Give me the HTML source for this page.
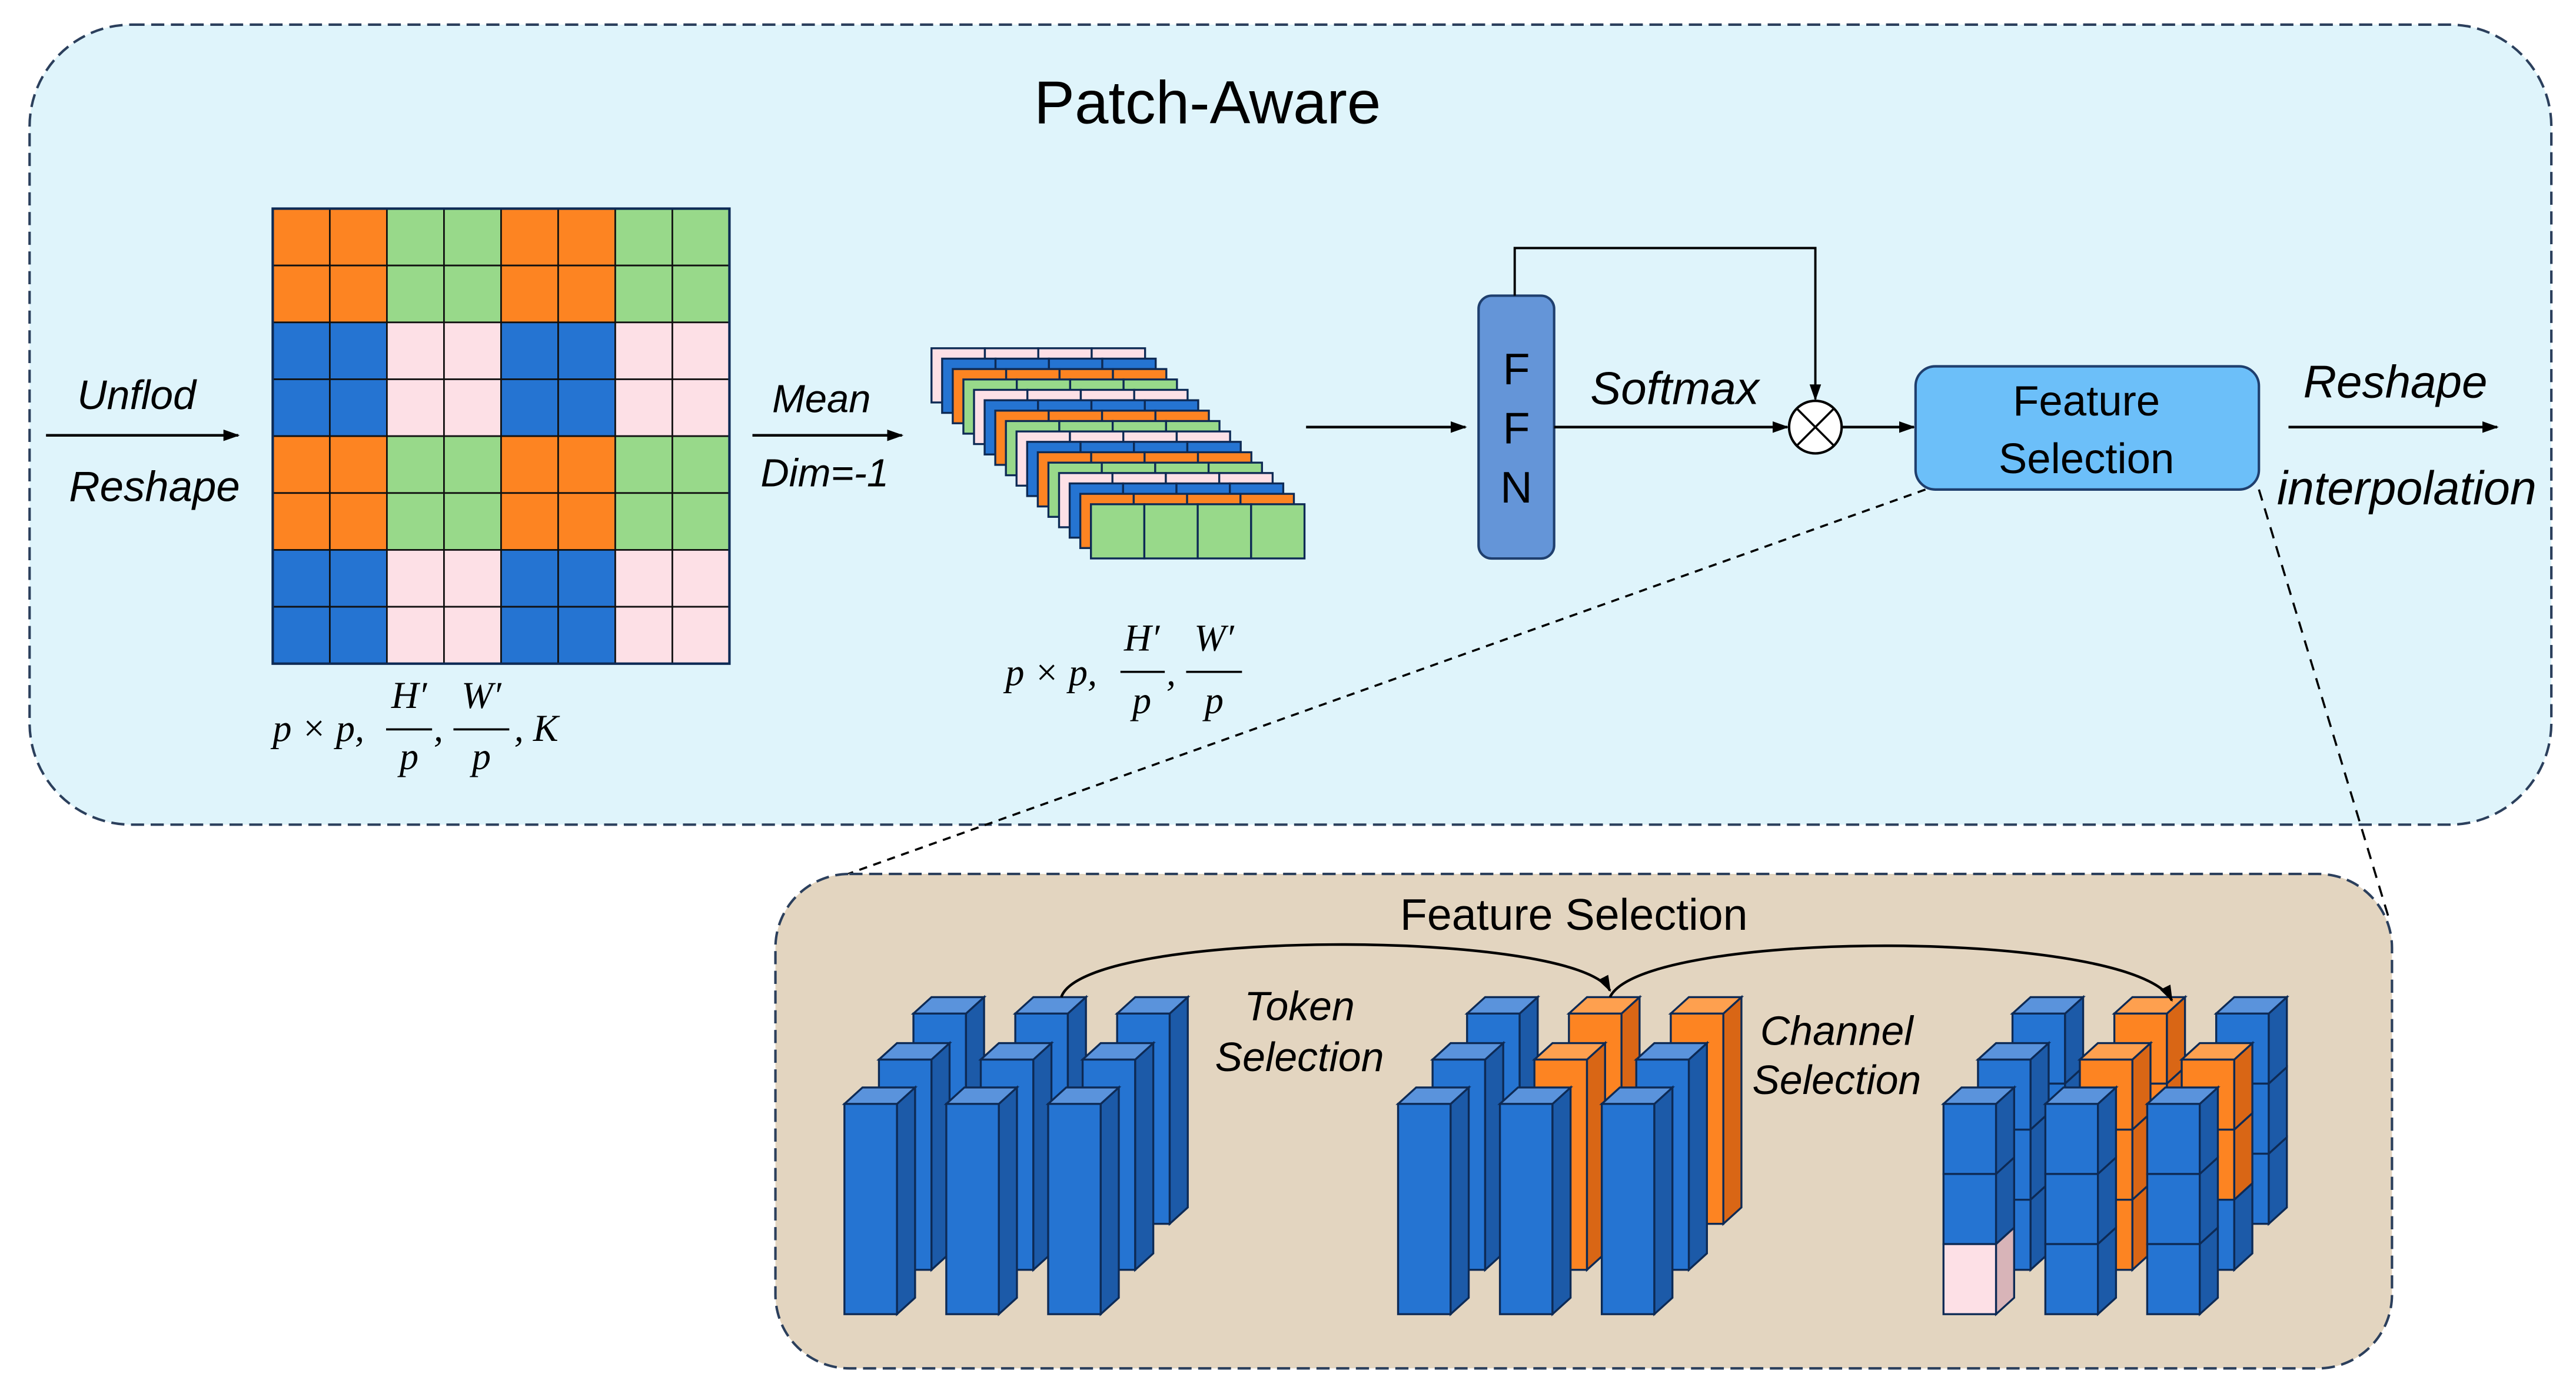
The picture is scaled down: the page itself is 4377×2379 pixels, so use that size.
<!DOCTYPE html>
<html><head><meta charset="utf-8">
<style>
html,body{margin:0;padding:0;background:#fff;}
svg{display:block;}
.lab{font-family:"Liberation Sans",sans-serif;font-style:italic;font-size:24px;fill:#000;}
.m{font-family:"Liberation Serif",serif;font-style:italic;font-size:23px;fill:#000;}
</style></head>
<body>
<svg id="s" width="4377" height="2379" viewBox="0 0 1568 852.25" xmlns="http://www.w3.org/2000/svg">
<defs>
<marker id="ar" markerWidth="10" markerHeight="10" refX="9" refY="5" orient="auto" markerUnits="userSpaceOnUse">
<path d="M0,1.5 L10,5 L0,8.5 z" fill="#000"/></marker>
</defs>
<rect width="1568" height="852.25" fill="#fff"/>
<rect x="18" y="15" width="1535" height="487" rx="62" fill="#dff4fb" stroke="#2b3f5c" stroke-width="1.5" stroke-dasharray="8,4"/>
<text x="735" y="75" text-anchor="middle" style="font-family:'Liberation Sans',sans-serif;font-size:37px">Patch-Aware</text>

<g id="grid"></g>
<g id="stack"></g>

<line x1="28" y1="265" x2="145" y2="265" stroke="#000" stroke-width="1.6" marker-end="url(#ar)"/>
<text class="lab" x="47" y="249" style="font-size:25px">Unflod</text>
<text class="lab" x="42" y="305" style="font-size:26px">Reshape</text>
<line x1="458" y1="265" x2="549" y2="265" stroke="#000" stroke-width="1.6" marker-end="url(#ar)"/>
<text class="lab" x="470" y="251">Mean</text>
<text class="lab" x="463" y="296">Dim=-1</text>

<text class="m" x="166" y="451">p × p,</text>
<text class="m" x="249" y="431" text-anchor="middle">H′</text>
<line x1="235" y1="444" x2="263" y2="444" stroke="#000" stroke-width="1.3"/>
<text class="m" x="249" y="468" text-anchor="middle">p</text>
<text class="m" x="264" y="451">,</text>
<text class="m" x="293" y="431" text-anchor="middle">W′</text>
<line x1="276" y1="444" x2="310" y2="444" stroke="#000" stroke-width="1.3"/>
<text class="m" x="293" y="468" text-anchor="middle">p</text>
<text class="m" x="313" y="451">, K</text>
<text class="m" x="612" y="417">p × p,</text>
<text class="m" x="695" y="396" text-anchor="middle">H′</text>
<line x1="682" y1="409" x2="709" y2="409" stroke="#000" stroke-width="1.3"/>
<text class="m" x="695" y="434" text-anchor="middle">p</text>
<text class="m" x="710" y="417">,</text>
<text class="m" x="739" y="396" text-anchor="middle">W′</text>
<line x1="722" y1="409" x2="756" y2="409" stroke="#000" stroke-width="1.3"/>
<text class="m" x="739" y="434" text-anchor="middle">p</text>

<line x1="795" y1="260" x2="892" y2="260" stroke="#000" stroke-width="1.6" marker-end="url(#ar)"/>
<rect x="900" y="180" width="46" height="160" rx="8" fill="#6495d8" stroke="#1f3f6e" stroke-width="1.5"/>
<g style="font-family:'Liberation Sans',sans-serif;font-size:27px" text-anchor="middle">
<text x="923" y="234">F</text><text x="923" y="270">F</text><text x="923" y="306">N</text></g>
<polyline points="922,180 922,151 1105,151 1105,243" fill="none" stroke="#000" stroke-width="1.4" marker-end="url(#ar)"/>
<line x1="946" y1="260" x2="1088" y2="260" stroke="#000" stroke-width="1.6" marker-end="url(#ar)"/>
<text class="lab" x="968" y="246" style="font-size:28px">Softmax</text>
<circle cx="1105" cy="260" r="16" fill="#fff" stroke="#000" stroke-width="1.5"/>
<line x1="1094" y1="249" x2="1116" y2="271" stroke="#000" stroke-width="1.3"/>
<line x1="1116" y1="249" x2="1094" y2="271" stroke="#000" stroke-width="1.3"/>
<line x1="1121" y1="260" x2="1165" y2="260" stroke="#000" stroke-width="1.6" marker-end="url(#ar)"/>
<rect x="1166" y="223" width="209" height="75" rx="12" fill="#6cbff9" stroke="#1f3f6e" stroke-width="1.5"/>
<g style="font-family:'Liberation Sans',sans-serif;font-size:26px" text-anchor="middle">
<text x="1270" y="253">Feature</text><text x="1270" y="288">Selection</text></g>
<line x1="1393" y1="260" x2="1520" y2="260" stroke="#000" stroke-width="1.6" marker-end="url(#ar)"/>
<text class="lab" x="1402" y="242" style="font-size:28px">Reshape</text>
<text class="lab" x="1386" y="307" style="font-size:29px">interpolation</text>

<line x1="1172" y1="298" x2="505" y2="536" stroke="#000" stroke-width="1.3" stroke-dasharray="5,4"/>
<line x1="1375" y1="298" x2="1455" y2="562" stroke="#000" stroke-width="1.3" stroke-dasharray="7,5"/>

<rect x="472" y="532" width="984" height="301" rx="45" fill="#e3d5c0" stroke="#2b3f5c" stroke-width="1.5" stroke-dasharray="8,4"/>
<text x="958" y="566" text-anchor="middle" style="font-family:'Liberation Sans',sans-serif;font-size:27px">Feature Selection</text>
<g id="bars"></g>
<path d="M646,607 C660,565 960,565 980,603" fill="none" stroke="#000" stroke-width="1.6" marker-end="url(#ar)"/>
<path d="M980,607 C1000,565 1300,565 1322,609" fill="none" stroke="#000" stroke-width="1.6" marker-end="url(#ar)"/>
<text class="lab" x="791" y="621" text-anchor="middle" style="font-size:25px">Token</text>
<text class="lab" x="791" y="652" text-anchor="middle" style="font-size:25px">Selection</text>
<text class="lab" x="1118" y="636" text-anchor="middle" style="font-size:25px">Channel</text>
<text class="lab" x="1118" y="666" text-anchor="middle" style="font-size:25px">Selection</text>
</svg>
<script>
var NS="http://www.w3.org/2000/svg";
function el(p,t,a){var e=document.createElementNS(NS,t);for(var k in a)e.setAttribute(k,a[k]);p.appendChild(e);return e;}
var C={O:"#fd8422",G:"#98d98a",B:"#2574d2",P:"#fde0e6"};
var g=document.getElementById("grid");
var rows=["OGOG","BPBP","OGOG","BPBP"];
var cw=(444-166)/8,ch=(404-127)/8;
for(var r=0;r<8;r++)for(var c=0;c<8;c++){
 var col=C[rows[r>>1][c>>1]];
 el(g,"rect",{x:166+c*cw,y:127+r*ch,width:cw,height:ch,fill:col,stroke:"#111","stroke-width":1});
}
el(g,"rect",{x:166,y:127,width:278,height:277,fill:"none",stroke:"#0d2a55","stroke-width":1.5});
var st=document.getElementById("stack");var seq=["P","B","O","G"];
for(var i=0;i<16;i++){
 var x=567+i*6.47,y=212+i*6.33,w=130,h=33;
 for(var k=0;k<4;k++)el(st,"rect",{x:x+k*w/4,y:y,width:w/4,height:h,fill:C[seq[i%4]],stroke:"#0d2a55","stroke-width":1.2});
}
var bg=document.getElementById("bars");
var PAL={B:["#2574d2","#1c5aa8","#5a93dc"],O:["#fd8422","#d96615","#fea04f"],P:["#fde0e6","#d8b4b8","#fde0e6"]};
function bar(x,y,cols,n){
 var w=32,H=128,dx=11,dy=-10,ch=H/n;
 for(var i=0;i<n;i++){var p=PAL[cols[i]],yy=y+i*ch;
  el(bg,"rect",{x:x,y:yy,width:w,height:ch,fill:p[0],stroke:"#0d2a55","stroke-width":1.2});
  el(bg,"polygon",{points:[x+w,yy,x+w+dx,yy+dy,x+w+dx,yy+ch+dy,x+w,yy+ch].join(","),fill:p[1],stroke:"#0d2a55","stroke-width":1.2});
 }
 var p=PAL[cols[0]];
 el(bg,"polygon",{points:[x,y,x+w,y,x+w+dx,y+dy,x+dx,y+dy].join(","),fill:p[2],stroke:"#0d2a55","stroke-width":1.2});
}
function group(x0,colsMap,n){
 var rowsY=[617,645,672],rowsX=[42,21,0];
 for(var r=0;r<3;r++)for(var c=0;c<3;c++)bar(x0+rowsX[r]+c*62,rowsY[r],colsMap[r][c],n);
}
group(514,[[["B"],["B"],["B"]],[["B"],["B"],["B"]],[["B"],["B"],["B"]]],1);
group(851,[[["B"],["O"],["O"]],[["B"],["O"],["B"]],[["B"],["B"],["B"]]],1);
group(1183,[[["B","B","B"],["O","O","O"],["B","B","B"]],[["B","B","B"],["O","O","O"],["O","O","B"]],[["B","B","P"],["B","B","B"],["B","B","B"]]],3);
</script>
</body></html>
